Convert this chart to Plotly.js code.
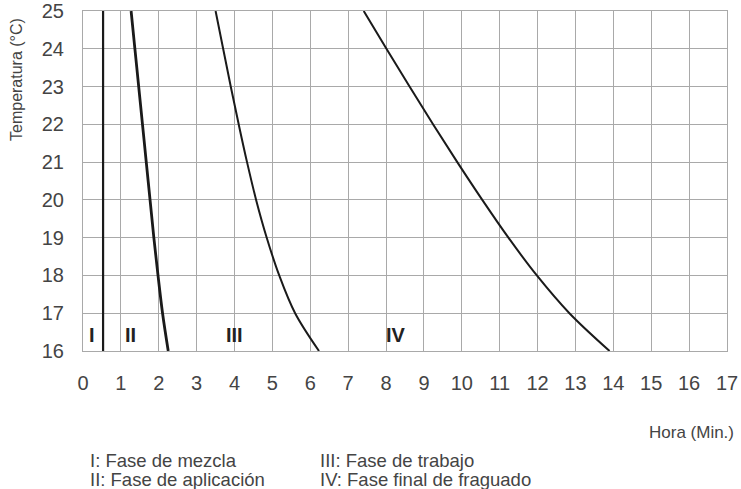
<!DOCTYPE html>
<html>
<head>
<meta charset="utf-8">
<script src="https://cdn.plot.ly/plotly-3.0.1.min.js"></script>
<style>html,body{margin:0;padding:0;background:#fff}#chart{width:741px;height:489px}</style>
</head>
<body>
<div id="chart"></div>
<script>
// Temperature levels (°C) at which each curve was read
var tempLevels = [25, 24, 23, 22, 21, 20, 19, 18, 17, 16];
// Time (min) of each phase boundary curve at those temperatures
var curveI = [0.53, 0.53, 0.53, 0.53, 0.53, 0.53, 0.53, 0.53, 0.53, 0.53];
var curveII = [1.27, 1.37, 1.47, 1.57, 1.67, 1.77, 1.87, 1.98, 2.10, 2.25];
var curveIII = [3.50, 3.70, 3.90, 4.11, 4.33, 4.57, 4.85, 5.18, 5.60, 6.23];
var curveIV = [7.41, 8.01, 8.62, 9.24, 9.88, 10.54, 11.23, 11.98, 12.84, 13.90];

// Phase labels inside the plot
var phaseLabels = ["I", "II", "III", "IV"];
var phaseLabelX = [0.245, 1.26, 4.01, 8.26];
var phaseLabelY = 16.42;

var xTicks = [0,1,2,3,4,5,6,7,8,9,10,11,12,13,14,15,16,17];
var yTicks = [16,17,18,19,20,21,22,23,24,25];

var legendLines = [
  "I: Fase de mezcla",
  "II: Fase de aplicación",
  "III: Fase de trabajo",
  "IV: Fase final de fraguado"
];

var FONT = "Liberation Sans, Arial, sans-serif";
var TXT = "#444444";

function curve(xs, w) {
  return {x: xs, y: tempLevels, type: "scatter", mode: "lines",
    line: {color: "#1a1a1a", width: w, shape: "spline", smoothing: 1},
    hoverinfo: "skip", showlegend: false};
}

var data = [curve(curveI, 2.2), curve(curveII, 2.8), curve(curveIII, 2), curve(curveIV, 2)];

var annotations = [];
for (var i = 0; i < phaseLabels.length; i++) {
  annotations.push({x: phaseLabelX[i], y: phaseLabelY, xref: "x", yref: "y",
    text: "<b>" + phaseLabels[i] + "</b>", showarrow: false,
    font: {family: FONT, size: 20, color: "#222"}, xanchor: "center", yanchor: "middle"});
}
annotations.push({x: -0.1025, y: 0.800, xref: "paper", yref: "paper", text: "Temperatura (°C)",
  textangle: -90, showarrow: false, font: {family: FONT, size: 16, color: TXT},
  xanchor: "center", yanchor: "middle"});
annotations.push({x: 1.014, y: -0.241, xref: "paper", yref: "paper", text: "Hora (Min.)",
  showarrow: false, font: {family: FONT, size: 17, color: TXT}, xanchor: "right", yanchor: "middle"});
var legX = [0.0078, 0.0078, 0.365, 0.365];
var legY = [-0.3206, -0.379, -0.3206, -0.379];
for (var j = 0; j < legendLines.length; j++) {
  annotations.push({x: legX[j], y: legY[j], xref: "paper", yref: "paper", text: legendLines[j],
    showarrow: false, font: {family: FONT, size: 18.5, color: TXT}, xanchor: "left", yanchor: "middle"});
}

var layout = {
  width: 741, height: 489,
  margin: {l: 83, r: 14, t: 11, b: 138, pad: 0},
  paper_bgcolor: "#fff", plot_bgcolor: "#fff",
  showlegend: false,
  xaxis: {range: [0, 17], tickvals: xTicks, ticktext: xTicks.map(String),
    showgrid: true, gridcolor: "#a9a9a9", gridwidth: 1, zeroline: false,
    showline: true, linecolor: "#a9a9a9", linewidth: 1, mirror: true,
    ticks: "", ticklabelstandoff: 14, tickfont: {family: FONT, size: 20, color: TXT}},
  yaxis: {range: [16, 25], tickvals: yTicks, ticktext: yTicks.map(String),
    showgrid: true, gridcolor: "#a9a9a9", gridwidth: 1, zeroline: false,
    showline: true, linecolor: "#a9a9a9", linewidth: 1, mirror: true,
    ticks: "", ticklabelstandoff: 14, tickfont: {family: FONT, size: 20, color: TXT}},
  annotations: annotations
};

Plotly.newPlot("chart", data, layout, {displayModeBar: false, staticPlot: true});
</script>
</body>
</html>
